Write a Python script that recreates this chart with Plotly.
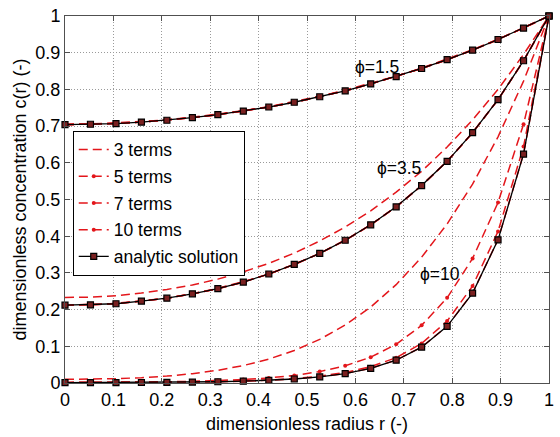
import plotly.graph_objects as go

# radial positions (dimensionless radius r)
r = [0.0, 0.0526, 0.1053, 0.1579, 0.2105, 0.2632, 0.3158, 0.3684, 0.4211, 0.4737,
     0.5263, 0.5789, 0.6316, 0.6842, 0.7368, 0.7895, 0.8421, 0.8947, 0.9474, 1.0]

series_names = ["3 terms", "5 terms", "7 terms", "10 terms", "analytic solution"]
phi_labels = ["ϕ=1.5", "ϕ=3.5", "ϕ=10"]
xtick_vals = [0, 0.1, 0.2, 0.3, 0.4, 0.5, 0.6, 0.7, 0.8, 0.9, 1]
xtick_text = ["0", "0.1", "0.2", "0.3", "0.4", "0.5", "0.6", "0.7", "0.8", "0.9", "1"]
ytick_vals = [0, 0.1, 0.2, 0.3, 0.4, 0.5, 0.6, 0.7, 0.8, 0.9, 1]
ytick_text = ["0", "0.1", "0.2", "0.3", "0.4", "0.5", "0.6", "0.7", "0.8", "0.9", "1"]

# phi = 1.5
c15_3 = [0.706, 0.706, 0.709, 0.712, 0.717, 0.724, 0.732, 0.742, 0.753, 0.766,
         0.781, 0.798, 0.816, 0.836, 0.858, 0.882, 0.908, 0.937, 0.967, 1.000]
c15_5 = [0.704, 0.705, 0.707, 0.711, 0.716, 0.723, 0.731, 0.741, 0.752, 0.765,
         0.780, 0.796, 0.815, 0.835, 0.857, 0.881, 0.907, 0.936, 0.967, 1.000]
c15_7 = [0.704, 0.705, 0.707, 0.711, 0.716, 0.723, 0.731, 0.741, 0.752, 0.765,
         0.780, 0.796, 0.815, 0.835, 0.857, 0.881, 0.907, 0.936, 0.967, 1.000]
c15_10 = [0.704, 0.705, 0.707, 0.711, 0.716, 0.723, 0.731, 0.741, 0.752, 0.765,
          0.780, 0.796, 0.815, 0.835, 0.857, 0.881, 0.907, 0.936, 0.967, 1.000]
c15_exact = [0.704, 0.705, 0.707, 0.711, 0.716, 0.723, 0.731, 0.741, 0.752, 0.765,
             0.780, 0.796, 0.815, 0.835, 0.857, 0.881, 0.907, 0.936, 0.967, 1.000]

# phi = 3.5
c35_3 = [0.233, 0.234, 0.238, 0.245, 0.255, 0.267, 0.283, 0.303, 0.326, 0.354,
         0.387, 0.425, 0.469, 0.520, 0.577, 0.643, 0.717, 0.800, 0.895, 1.000]
c35_5 = [0.212, 0.213, 0.217, 0.223, 0.231, 0.243, 0.258, 0.276, 0.297, 0.323,
         0.353, 0.389, 0.431, 0.480, 0.538, 0.604, 0.682, 0.772, 0.878, 1.000]
c35_7 = [0.212, 0.213, 0.216, 0.223, 0.231, 0.243, 0.257, 0.275, 0.297, 0.323,
         0.353, 0.389, 0.431, 0.480, 0.538, 0.604, 0.682, 0.772, 0.878, 1.000]
c35_10 = [0.212, 0.213, 0.216, 0.223, 0.231, 0.243, 0.257, 0.275, 0.297, 0.323,
          0.353, 0.389, 0.431, 0.480, 0.538, 0.604, 0.682, 0.772, 0.878, 1.000]
c35_exact = [0.212, 0.213, 0.216, 0.223, 0.231, 0.243, 0.257, 0.275, 0.297, 0.323,
             0.353, 0.389, 0.431, 0.480, 0.538, 0.604, 0.682, 0.772, 0.878, 1.000]

# phi = 10
c10_3 = [0.0099, 0.0104, 0.0118, 0.0145, 0.0188, 0.0253, 0.0346, 0.0475, 0.0651, 0.0885,
         0.1189, 0.1579, 0.2070, 0.2680, 0.3427, 0.4333, 0.5418, 0.6708, 0.8226, 1.0]
c10_5 = [0.0017, 0.0018, 0.0021, 0.0026, 0.0033, 0.0046, 0.0065, 0.0094, 0.0138, 0.0207,
         0.0310, 0.0468, 0.0704, 0.1055, 0.1571, 0.2320, 0.3394, 0.4917, 0.7049, 1.0]
c10_7 = [0.0010, 0.0011, 0.0012, 0.0015, 0.0019, 0.0027, 0.0038, 0.0055, 0.0081, 0.0122,
         0.0186, 0.0286, 0.0443, 0.0689, 0.1077, 0.1687, 0.2642, 0.4131, 0.6441, 1.0]
c10_10 = [0.0009, 0.0010, 0.0011, 0.0013, 0.0017, 0.0024, 0.0034, 0.0049, 0.0073, 0.0110,
          0.0167, 0.0257, 0.0399, 0.0623, 0.0979, 0.1546, 0.2453, 0.3907, 0.6242, 1.0]
c10_exact = [0.0009, 0.0010, 0.0011, 0.0013, 0.0017, 0.0024, 0.0034, 0.0049, 0.0073, 0.0109,
             0.0167, 0.0256, 0.0398, 0.0621, 0.0977, 0.1543, 0.2449, 0.3901, 0.6236, 1.0]

# annotation anchor positions (data coords)
phi_label_x = [0.644, 0.69, 0.775]
phi_label_y = [0.86, 0.586, 0.296]

RED = "#e3161b"
FONT = "Liberation Sans, Arial, Helvetica, sans-serif"
DASH = "9px,5px"

approx = {
    "3 terms": [c15_3, c35_3, c10_3],
    "5 terms": [c15_5, c35_5, c10_5],
    "7 terms": [c15_7, c35_7, c10_7],
    "10 terms": [c15_10, c35_10, c10_10],
}
exact = [c15_exact, c35_exact, c10_exact]

fig = go.Figure()
for name in series_names[:4]:
    for j, ys in enumerate(approx[name]):
        mode = "lines" if name == "3 terms" else "lines+markers"
        fig.add_trace(go.Scatter(
            x=r, y=ys, mode=mode, name=name, legendgroup=name,
            showlegend=(j == 0), cliponaxis=False,
            line=dict(color=RED, width=1.5, dash=DASH),
            marker=dict(symbol="circle", size=4, color=RED),
        ))
for j, ys in enumerate(exact):
    fig.add_trace(go.Scatter(
        x=r, y=ys, mode="lines+markers", name=series_names[4],
        legendgroup=series_names[4], showlegend=(j == 0), cliponaxis=False,
        line=dict(color="black", width=1.3),
        marker=dict(symbol="square", size=6, color="#7a2020",
                    line=dict(width=1.2, color="black")),
    ))

for lab, xx, yy in zip(phi_labels, phi_label_x, phi_label_y):
    fig.add_annotation(x=xx, y=yy, text=lab, showarrow=False,
                       font=dict(size=17.5, color="black", family=FONT))

axis_common = dict(
    range=[0, 1], showgrid=True, gridcolor="#9a9a9a", griddash="1px,2px",
    gridwidth=1, zeroline=False, showline=True, linecolor="#505050",
    linewidth=1, mirror="ticks", ticks="inside", ticklen=5, tickcolor="#505050",
    tickfont=dict(size=18, color="black", family=FONT),
    ticklabeloverflow="allow",
)

fig.update_layout(
    width=560, height=437,
    margin=dict(l=65, r=6, t=11, b=54),
    paper_bgcolor="white", plot_bgcolor="white",
    font=dict(family=FONT, size=17.5, color="black"),
    xaxis=dict(**axis_common, tickvals=xtick_vals, ticktext=xtick_text,
               title=dict(text="dimensionless radius r (-)", standoff=8,
                          font=dict(size=18, family=FONT))),
    yaxis=dict(**axis_common, tickvals=ytick_vals, ticktext=ytick_text,
               title=dict(text="dimensionless concentration c(r) (-)", standoff=4,
                          font=dict(size=18, family=FONT))),
    legend=dict(x=0.016, y=0.688, xanchor="left", yanchor="top",
                bordercolor="black", borderwidth=1, bgcolor="white",
                font=dict(size=17.5, family=FONT, color="black"),
                traceorder="grouped", tracegroupgap=1, itemwidth=30),
)

fig.write_html("out.html",
               config={"displayModeBar": False},
               post_script="document.body.style.margin='0';")
